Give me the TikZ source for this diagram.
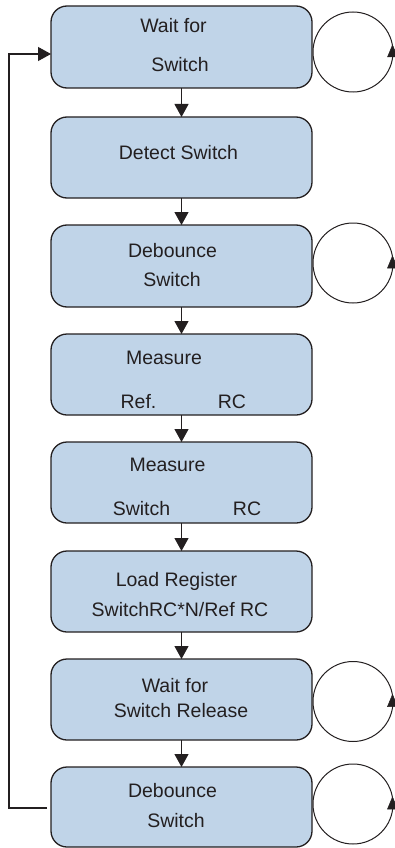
\documentclass[tikz,border=0pt]{standalone}
\usepackage{fontspec}
\setmainfont{Liberation Sans}
\usetikzlibrary{arrows.meta}
\definecolor{boxfill}{RGB}{192,212,232}
\definecolor{ink}{RGB}{35,31,32}
\begin{document}
\begin{tikzpicture}[x=1pt,y=1pt,
  box/.style={draw=ink, fill=boxfill, line width=1.3pt, rounded corners=16pt,
    minimum width=261pt, minimum height=81pt, inner sep=0pt, outer sep=0pt},
  txt/.style={anchor=base, inner sep=0pt, text=ink, font=\fontsize{19.5}{23}\selectfont},
  arr/.style={draw=ink, line width=1.1pt, -{Triangle[length=13pt,width=14pt]}},
  loopc/.style={draw=ink, line width=1pt, circle, minimum size=80pt, inner sep=0pt, outer sep=0pt},
  loophead/.style={fill=ink, draw=ink, line width=0.5pt, line join=miter}]
\useasboundingbox (0,0) rectangle (395,-848);
% boxes
\node[box, minimum height=82pt] (b1) at (181.5,-47) {};
\node[box] (b2) at (181.5,-157.5) {};
\node[box, minimum height=82pt] (b3) at (181.5,-266) {};
\node[box] (b4) at (181.5,-374.5) {};
\node[box] (b5) at (181.5,-482.5) {};
\node[box] (b6) at (181.5,-591.5) {};
\node[box] (b7) at (181.5,-699.5) {};
\node[box, minimum height=80pt] (b8) at (181.5,-807) {};
% texts
\node[txt] (t1a) at (173.5,-33) {Wait for};
\node[txt] (t1b) at (180,-72) {Switch};
\node[txt] (t2a) at (178.5,-159) {Detect Switch};
\node[txt] (t3a) at (172.5,-257) {Debounce};
\node[txt] (t3b) at (172,-286) {Switch};
\node[txt] (t4a) at (164,-364) {Measure};
\node[txt] (t4b) at (138.5,-408) {Ref.};
\node[txt] (t4c) at (232,-408) {RC};
\node[txt] (t5a) at (167.5,-471) {Measure};
\node[txt] (t5b) at (141.5,-515) {Switch};
\node[txt] (t5c) at (247,-515) {RC};
\node[txt] (t6a) at (176.5,-586) {Load Register};
\node[txt] (t6b) at (180,-616) {SwitchRC*N/Ref RC};
\node[txt] (t7a) at (175,-692) {Wait for};
\node[txt] (t7b) at (181,-717) {Switch Release};
\node[txt] (t8a) at (172.5,-797) {Debounce};
\node[txt] (t8b) at (176,-827) {Switch};
% vertical flow
\draw[arr] (b1.south) -- (b2.north);
\draw[arr] (b2.south) -- (b3.north);
\draw[arr] (b3.south) -- (b4.north);
\draw[arr] (b4.south) -- (b5.north);
\draw[arr] (b5.south) -- (b6.north);
\draw[arr] (b6.south) -- (b7.north);
\draw[arr] (b7.south) -- (b8.north);
% feedback
\coordinate (fbstart) at ([xshift=-4pt,yshift=-1pt]b8.west);
\coordinate (fbend) at ([yshift=-7pt]b1.west);
\draw[arr] (fbstart) -- (9,-808) |- (fbend);
% self loops
\foreach \n/\cy in {1/52,3/263,7/701.5,8/804}{
  \node[loopc] (l\n) at (353,-\cy) {};
  \path[loophead] ([shift={(-0.5,7)}]l\n.east) -- ([shift={(-5.5,-5)}]l\n.east) -- ([shift={(4.5,-5)}]l\n.east) -- cycle;
}
\end{tikzpicture}
\end{document}
